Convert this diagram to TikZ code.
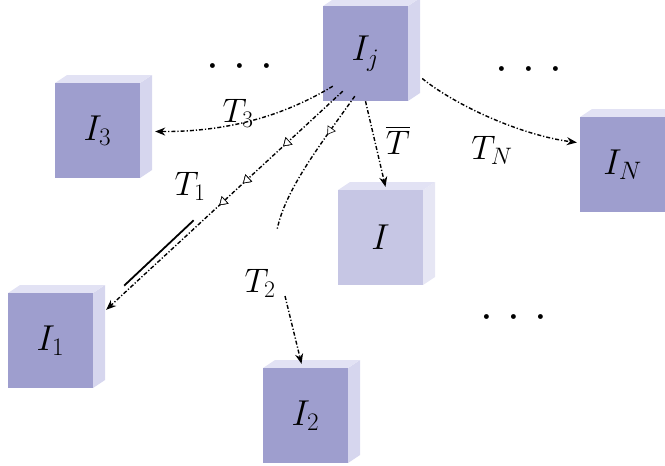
\RequirePackage{fix-cm}
\documentclass[tikz,border=0pt]{standalone}
\usepackage{exscale}
\usetikzlibrary{arrows.meta,calc,decorations.markings}
\definecolor{boxc}{RGB}{158,158,206}
\definecolor{sidec}{RGB}{214,214,238}
\definecolor{topc}{RGB}{226,226,244}
\definecolor{fadec}{RGB}{198,198,228}
\definecolor{fadeside}{RGB}{230,230,244}
\newcommand{\mycube}[6]{%
  % #1 name, #2 x, #3 y (top-left of face), #4 label, #5 face colour, #6 side colour
  \fill[#6] (#2+85,#3) -- ++(12,-8) -- ++(0,95) -- ++(-12,8) -- cycle;
  \fill[topc] (#2,#3) -- ++(12,-8) -- ++(85,0) -- ++(-12,8) -- cycle;
  \node[facebox,fill=#5] (#1) at (#2+42.5,#3+47.5) {#4};
}
\tikzset{
  facebox/.style={draw=none,minimum width=85pt,minimum height=95pt,inner sep=0pt,
    font=\fontsize{36}{40}\selectfont},
  lbl/.style={font=\fontsize{34}{38}\selectfont,inner sep=1pt},
  dotsl/.style={font=\fontsize{46}{50}\selectfont,inner sep=0pt},
  conn/.style={line width=1.4pt,dash pattern=on 4pt off 2pt on 1.2pt off 2pt,
    -{Stealth[length=10pt,width=8pt]}},
  plain/.style={line width=1.4pt,dash pattern=on 4pt off 2pt on 1.2pt off 2pt},
  tri/.style={postaction={decorate},decoration={markings,
    mark=at position #1 with {\draw[line width=0.6pt,solid,fill=white] (0,0) -- (-7,4.5) -- (-7,-4.5) -- cycle;}}}
}
\begin{document}
\begin{tikzpicture}[x=1pt,y=-1pt]
\useasboundingbox (0,0) rectangle (665,466);
\mycube{Ij}{323}{6}{$I_j$}{boxc}{sidec}
\mycube{I3}{55}{83}{$I_3$}{boxc}{sidec}
\mycube{IN}{580}{117}{$I_N$}{boxc}{sidec}
\mycube{I}{338}{190}{$I$}{fadec}{fadeside}
\mycube{I1}{8}{293}{$I_1$}{boxc}{sidec}
\mycube{I2}{263}{368}{$I_2$}{boxc}{sidec}
% connectors
\draw[conn] ($(Ij.south west)+(10,-15)$) .. controls (290,112) and (235,132) .. ($(I3.east)+(15,1)$);
\draw[conn,tri=0.25,tri=0.42,tri=0.52] ($(Ij.south west)+(20,-10)$) -- ($(I1.north east)+(13,17)$);
\draw[line width=1.8pt] ($(Ij.south west)!0.58!(I1.north east)+(4,8)$) -- ($(Ij.south west)!0.9!(I1.north east)+(8,12)$);
\coordinate (c2a) at (277,230);
\coordinate (c2b) at (285,296);
\draw[plain,tri=0.3] ($(Ij.south west)+(32,-5)$) .. controls (320,145) and (285,190) .. (c2a);
\draw[conn] (c2b) -- ($(I2.north)+(-4,-4)$);
\draw[conn] ($(Ij.south)+(0,0)$) -- ($(I.north)+(5,-3)$);
\draw[conn] ($(Ij.east)+(14,25)$) .. controls (455,105) and (520,135) .. ($(IN.west)+(-3,-22)$);
% labels
\node[lbl] (t3) at (238,113) {$T_3$};
\node[lbl] (t1) at (190,186) {$T_1$};
\node[lbl] (t2) at (260,283) {$T_2$};
\node[lbl] (tb) at (398,140) {$\overline{T}$};
\node[lbl] (tn) at (492,150) {$T_N$};
% dots
\node[dotsl] (d1) at (240,67) {$\cdot\kern4pt\cdot\kern4pt\cdot$};
\node[dotsl] (d2) at (529,70) {$\cdot\kern4pt\cdot\kern4pt\cdot$};
\node[dotsl] (d3) at (514,318) {$\cdot\kern4pt\cdot\kern4pt\cdot$};
\end{tikzpicture}
\end{document}
